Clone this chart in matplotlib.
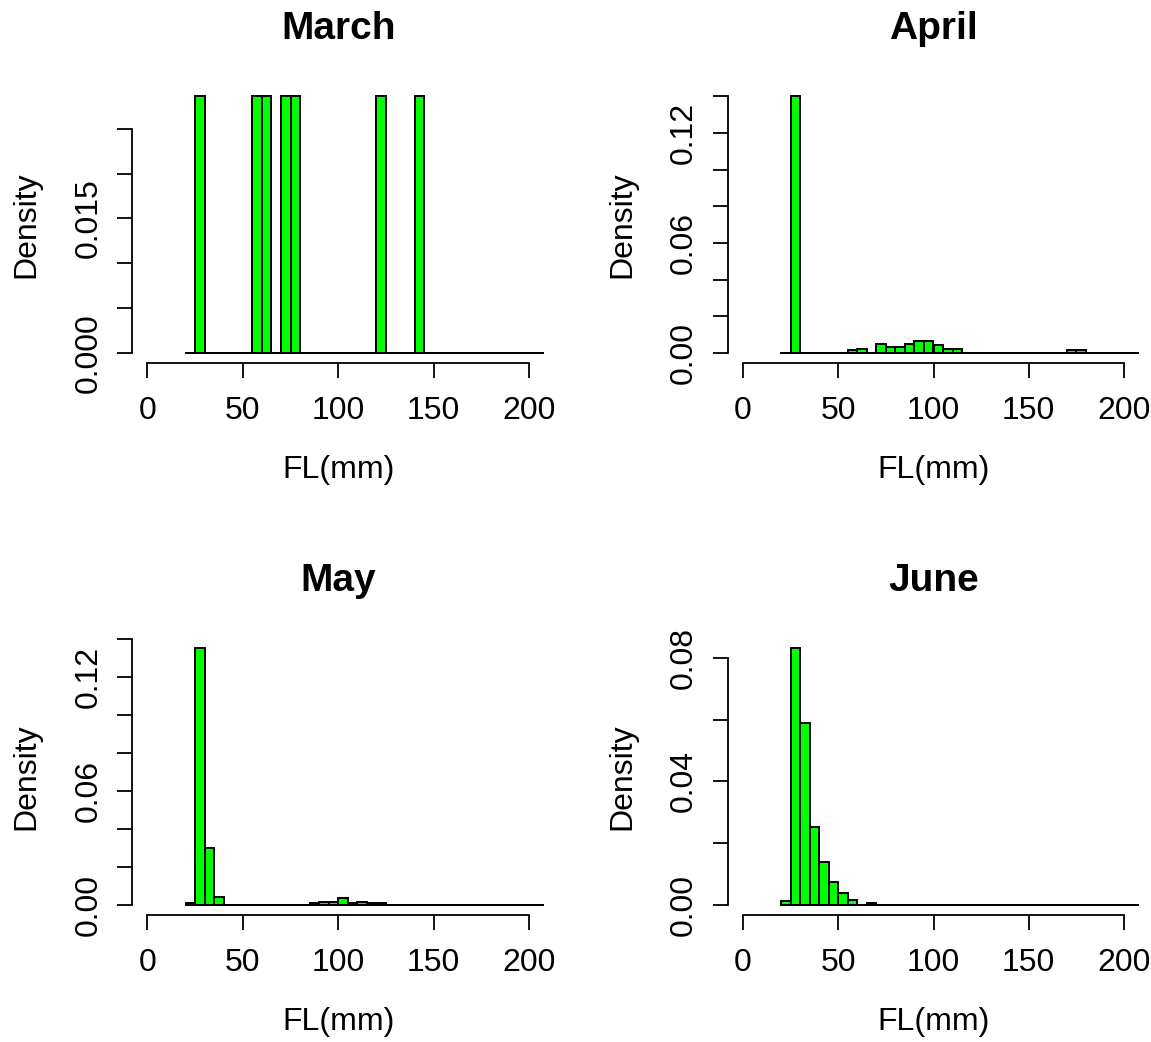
import numpy as np
import matplotlib.pyplot as plt

plt.rcParams['font.family'] = ['Liberation Sans', 'DejaVu Sans']

# 5 mm bins from 20 to 210 (same breaks in every month)
bin_edges = list(range(20, 215, 5))

months = ['March', 'April', 'May', 'June']

# left edge of non-empty bins and their density
march_bins = [25, 55, 60, 70, 75, 120, 140]
march_density = [0.0286, 0.0286, 0.0286, 0.0286, 0.0286, 0.0286, 0.0286]

april_bins = [25, 55, 60, 70, 75, 80, 85, 90, 95, 100, 105, 110, 170, 175]
april_density = [0.140, 0.0015, 0.0024, 0.0051, 0.0033, 0.0033, 0.0051,
                 0.0064, 0.0064, 0.0042, 0.0024, 0.0024, 0.0015, 0.0015]

may_bins = [20, 25, 30, 35, 85, 90, 95, 100, 105, 110, 115, 120]
may_density = [0.0012, 0.135, 0.0298, 0.0044, 0.0010, 0.0018, 0.0015,
               0.0035, 0.0010, 0.0018, 0.0010, 0.0010]

june_bins = [20, 25, 30, 35, 40, 45, 50, 55, 65]
june_density = [0.0014, 0.083, 0.0589, 0.0251, 0.0138, 0.0074, 0.0040,
                0.0016, 0.0008]

# y ticks and which of them carry a label
march_yticks = [0, 0.005, 0.010, 0.015, 0.020, 0.025]
march_ylabels = ['0.000', '', '', '0.015', '', '']
april_yticks = [0, 0.02, 0.04, 0.06, 0.08, 0.10, 0.12, 0.14]
april_ylabels = ['0.00', '', '', '0.06', '', '', '0.12', '']
may_yticks = april_yticks
may_ylabels = april_ylabels
june_yticks = [0, 0.02, 0.04, 0.06, 0.08]
june_ylabels = ['0.00', '', '0.04', '', '0.08']

xticks = [0, 50, 100, 150, 200]

panels = [
    (march_bins, march_density, march_yticks, march_ylabels),
    (april_bins, april_density, april_yticks, april_ylabels),
    (may_bins, may_density, may_yticks, may_ylabels),
    (june_bins, june_density, june_yticks, june_ylabels),
]

W, H = 1151, 1042
fig = plt.figure(figsize=(W / 100, H / 100), dpi=100)

# plot regions in pixels: (left, right, top, bottom)
boxes = [
    (132.2, 544.3, 86.2, 363.3),
    (727.8, 1139.2, 86.2, 363.3),
    (132.2, 544.3, 638.2, 915.3),
    (727.8, 1139.2, 638.2, 915.3),
]

left_edges = bin_edges[:-1]

for name, (bins, dens, yt, yl), (l, r, t, b) in zip(months, panels, boxes):
    ax = fig.add_axes([l / W, 1 - b / H, (r - l) / W, (b - t) / H])

    heights = np.zeros(len(left_edges))
    for e, d in zip(bins, dens):
        heights[left_edges.index(e)] = d

    ax.bar(left_edges, heights, width=5, align='edge', color='#00ff00',
           edgecolor='black', linewidth=1.4)
    # empty bins show up as a flat line at zero
    ax.plot([bin_edges[0], bin_edges[-1]], [0, 0], color='black', lw=1.4,
            zorder=1)

    ymax = max(dens)
    ax.set_xlim(-8, 208)
    ax.set_ylim(-0.04 * ymax, 1.04 * ymax)

    ax.spines['top'].set_visible(False)
    ax.spines['right'].set_visible(False)
    ax.spines['left'].set_bounds(yt[0], yt[-1])
    ax.spines['bottom'].set_bounds(0, 200)
    for s in ('left', 'bottom'):
        ax.spines[s].set_linewidth(1.3)

    ax.set_xticks(xticks)
    ax.set_xticklabels([str(v) for v in xticks])
    ax.set_yticks(yt)
    ax.set_yticklabels(yl, rotation=90, va='center')
    ax.tick_params(axis='both', direction='out', length=10.8, width=1.3,
                   labelsize=23)
    ax.tick_params(axis='x', pad=12.5)
    ax.tick_params(axis='y', pad=10)

    ax.set_title(name, fontsize=28, fontweight='bold', pad=34)
    ax.set_xlabel('FL(mm)', fontsize=23, labelpad=21)
    ax.set_ylabel('Density', fontsize=23, labelpad=23)

fig.savefig('out.png', dpi=100)
